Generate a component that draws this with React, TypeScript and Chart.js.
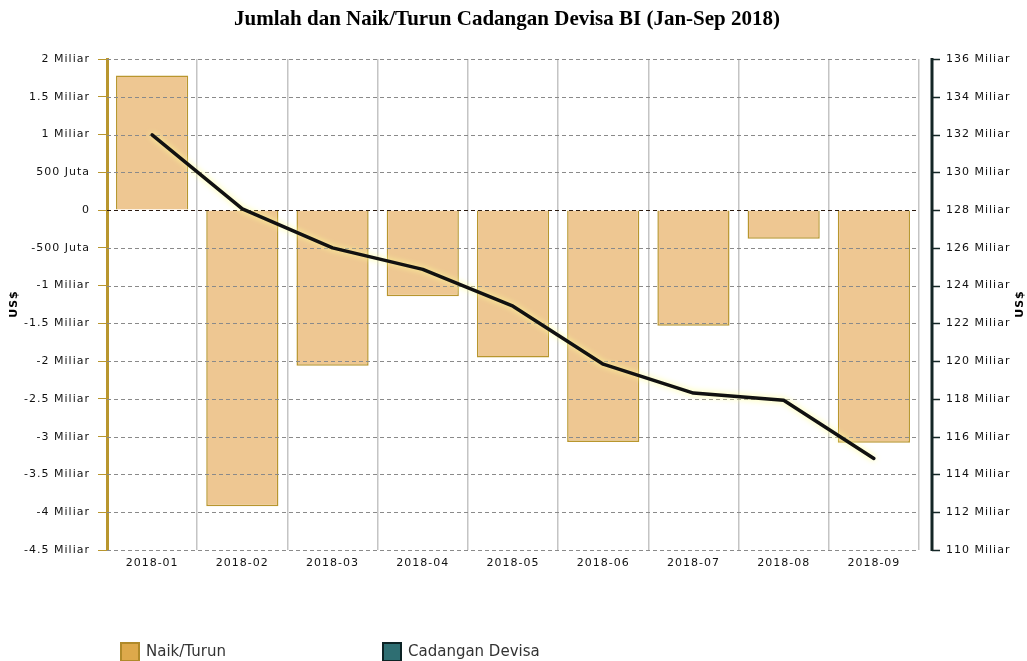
import React, { useEffect, useRef } from "react";
import { Chart, registerables } from "chart.js";

Chart.register(...registerables);

// ---------- data ----------
const categories = [
  "2018-01", "2018-02", "2018-03", "2018-04", "2018-05",
  "2018-06", "2018-07", "2018-08", "2018-09",
];
// monthly change, in billions US$
const naikTurun = [1.78, -3.92, -2.06, -1.14, -1.95, -3.07, -1.53, -0.38, -3.08];
// reserves, in billions US$
const cadangan = [131.98, 128.06, 126.0, 124.86, 122.91, 119.84, 118.31, 117.93, 114.85];

const titleText = "Jumlah dan Naik/Turun Cadangan Devisa BI (Jan-Sep 2018)";
const axisTitle = "US$";
const seriesLabels = ["Naik/Turun", "Cadangan Devisa"];
const leftRange = { min: -4.5, max: 2, step: 0.5 };
const rightRange = { min: 110, max: 136, step: 2 };

// ---------- styles ----------
const BAR_FILL = "#EEC792";
const BAR_BORDER = "#B8962E";
const GOLD_AXIS = "#B8962E";
const DARK_AXIS = "#142626";
const TICK_FONT = { family: "'DejaVu Sans', Verdana, sans-serif", size: 11 };

function fmtLeft(v: number): string {
  if (v === 0) return "0";
  if (Math.abs(v) < 1) return `${Math.round(v * 1000)} Juta`;
  return `${v} Miliar`;
}

const decor = {
  id: "decor",
  beforeUpdate(chart: any) {
    chart.ctx.letterSpacing = "1px";
  },
  beforeDraw(chart: any) {
    chart.ctx.letterSpacing = "1px";
  },
  afterDatasetDraw(chart: any, args: any) {
    const ctx = chart.ctx;
    const ds = chart.data.datasets[args.index];
    if (ds.type === "bar") {
      const y = chart.scales.y;
      const { left, right } = chart.chartArea;
      ctx.save();
      ctx.lineWidth = 1;
      ctx.setLineDash([4, 3]);
      for (const t of y.ticks) {
        const py = Math.round(y.getPixelForValue(t.value)) + 0.5;
        ctx.strokeStyle = t.value === 0 ? "#2a1a10" : "#8a8a8a";
        ctx.beginPath();
        ctx.moveTo(left, py);
        ctx.lineTo(right, py);
        ctx.stroke();
      }
      ctx.restore();
    }
    if (ds.type === "line") {
      ctx.restore();
    }
  },
  beforeDatasetDraw(chart: any, args: any) {
    const ds = chart.data.datasets[args.index];
    if (ds.type === "line") {
      const ctx = chart.ctx;
      ctx.save();
      ctx.shadowColor = "rgba(255,255,150,1)";
      ctx.shadowBlur = 6;
    }
  },
  afterDraw(chart: any) {
    const ctx = chart.ctx;
    const { top, bottom, right } = chart.chartArea;

    // right axis line + ticks
    const y1 = chart.scales.y1;
    const ax = right + 13;
    ctx.save();
    ctx.strokeStyle = DARK_AXIS;
    ctx.lineWidth = 3;
    ctx.beginPath();
    ctx.moveTo(ax, top - 1);
    ctx.lineTo(ax, bottom + 1);
    ctx.stroke();
    ctx.lineWidth = 1.5;
    for (const t of y1.ticks) {
      const py = Math.round(y1.getPixelForValue(t.value)) + 0.5;
      ctx.beginPath();
      ctx.moveTo(ax, py);
      ctx.lineTo(ax + 8, py);
      ctx.stroke();
    }
    ctx.restore();

    // title (font size fitted to the reference width)
    ctx.save();
    ctx.letterSpacing = "0px";
    ctx.font = "bold 18px 'Liberation Serif', 'Times New Roman', serif";
    const w0 = ctx.measureText(titleText).width;
    const size = Math.max(16, Math.min(21, (18 * 549) / w0));
    ctx.font = `bold ${size.toFixed(1)}px 'Liberation Serif', 'Times New Roman', serif`;
    ctx.fillStyle = "#000";
    ctx.textAlign = "center";
    ctx.textBaseline = "alphabetic";
    ctx.fillText(titleText, 507, 25);
    ctx.restore();

    // axis titles
    const drawAxisTitle = (x: number, y: number) => {
      ctx.save();
      ctx.letterSpacing = "1px";
      ctx.translate(x, y);
      ctx.rotate(-Math.PI / 2);
      ctx.font = "bold 11px 'DejaVu Sans', Verdana, sans-serif";
      ctx.fillStyle = "#000";
      ctx.textAlign = "center";
      ctx.textBaseline = "middle";
      ctx.fillText(axisTitle, 0, 0);
      ctx.restore();
    };
    drawAxisTitle(14, 304);
    drawAxisTitle(1020, 304);

    // legend
    const items = [
      { x: 120, fill: "#DDA94B", stroke: "#B08A2A", label: chart.data.datasets[1].label },
      { x: 382, fill: "#2E6E72", stroke: "#0C2325", label: chart.data.datasets[0].label },
    ];
    ctx.save();
    ctx.letterSpacing = "0px";
    for (const it of items) {
      ctx.fillStyle = it.fill;
      ctx.fillRect(it.x, 642, 20, 20);
      ctx.strokeStyle = it.stroke;
      ctx.lineWidth = 2;
      ctx.strokeRect(it.x + 1, 643, 18, 18);
      ctx.fillStyle = "#333";
      ctx.font = "15px 'DejaVu Sans', Verdana, sans-serif";
      ctx.textAlign = "left";
      ctx.textBaseline = "middle";
      ctx.fillText(it.label, it.x + 26, 652);
    }
    ctx.restore();
  },
};

export default function App() {
  const ref = useRef<HTMLCanvasElement | null>(null);

  useEffect(() => {
    if (!ref.current) return;
    const chart = new Chart(ref.current, {
      type: "bar",
      data: {
        labels: categories,
        datasets: [
          {
            type: "line",
            label: seriesLabels[1],
            data: cadangan,
            yAxisID: "y1",
            borderColor: "#111111",
            borderWidth: 3.5,
            borderCapStyle: "round",
            borderJoinStyle: "round",
            pointRadius: 0,
            tension: 0,
            fill: false,
            order: 0,
          } as any,
          {
            type: "bar",
            label: seriesLabels[0],
            data: naikTurun,
            yAxisID: "y",
            backgroundColor: BAR_FILL,
            borderColor: BAR_BORDER,
            borderWidth: 1.5,
            barPercentage: 0.8,
            categoryPercentage: 1,
            order: 1,
          } as any,
        ],
      },
      options: {
        responsive: false,
        animation: false,
        devicePixelRatio: 1,
        layout: { padding: { top: 59, left: 0, right: 0, bottom: 0 } },
        plugins: {
          legend: { display: false },
          title: { display: false },
          tooltip: { enabled: false },
        },
        scales: {
          x: {
            type: "category",
            offset: true,
            grid: {
              display: true,
              offset: true,
              color: "#c4c4c4",
              lineWidth: 1.5,
              drawTicks: false,
            },
            border: { display: false },
            ticks: { font: TICK_FONT, color: "#111", padding: 7, maxRotation: 0 },
            afterFit: (s: any) => {
              s.height = 111;
            },
          },
          y: {
            position: "left",
            min: leftRange.min,
            max: leftRange.max,
            ticks: {
              stepSize: leftRange.step,
              font: TICK_FONT,
              color: "#111",
              padding: 8,
              callback: (v: any) => fmtLeft(Number(v)),
            },
            grid: {
              drawOnChartArea: false,
              drawTicks: true,
              tickLength: 9,
              tickColor: GOLD_AXIS,
              tickWidth: 1,
            },
            border: { display: true, color: GOLD_AXIS, width: 3 },
            afterFit: (s: any) => {
              s.width = 107;
            },
          },
          y1: {
            position: "right",
            min: rightRange.min,
            max: rightRange.max,
            ticks: {
              stepSize: rightRange.step,
              font: TICK_FONT,
              color: "#111",
              padding: 27,
              callback: (v: any) => `${v} Miliar`,
            },
            grid: { display: false, drawTicks: false },
            border: { display: false },
            afterFit: (s: any) => {
              s.width = 108;
            },
          },
        },
      },
      plugins: [decor as any],
    });
    return () => chart.destroy();
  }, []);

  return (
    <div style={{ position: "absolute", left: 0, top: 0, width: 1027, height: 661, background: "#fff" }}>
      <canvas ref={ref} width={1027} height={661} style={{ display: "block" }} />
    </div>
  );
}
